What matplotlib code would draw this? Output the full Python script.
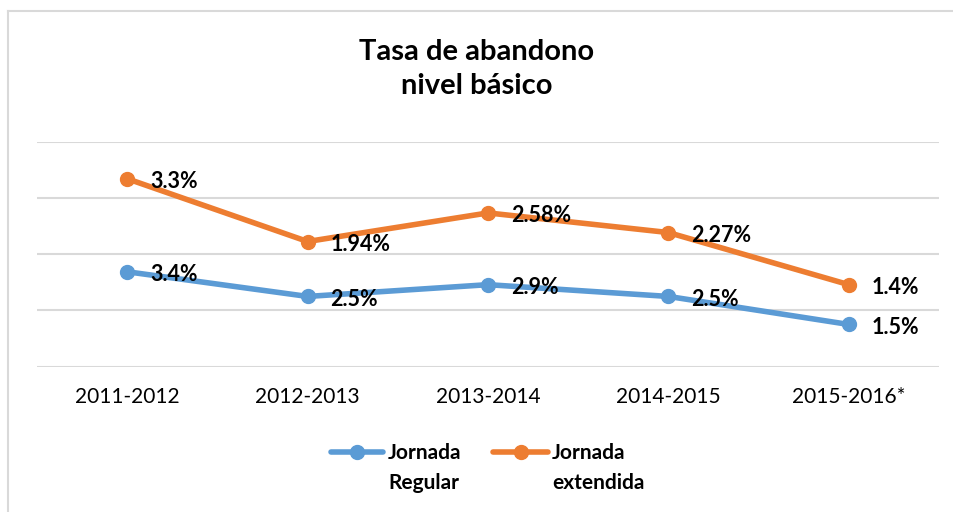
import matplotlib.pyplot as plt
from matplotlib.lines import Line2D

plt.rcParams['font.family'] = ['Lato', 'DejaVu Sans']

# Periods and series (line heights as drawn, plus the label text shown)
periodos = ["2011-2012", "2012-2013", "2013-2014", "2014-2015", "2015-2016*"]
regular_y = [1.69, 1.25, 1.46, 1.25, 0.75]
extendida_y = [3.35, 2.23, 2.74, 2.39, 1.46]
regular_txt = ["3.4%", "2.5%", "2.9%", "2.5%", "1.5%"]
extendida_txt = ["3.3%", "1.94%", "2.58%", "2.27%", "1.4%"]
series_nombres = ["Jornada\nRegular", "Jornada\nextendida"]

azul = "#5b9bd5"
naranja = "#ed7d31"

fig = plt.figure(figsize=(9.54, 5.12), dpi=100)
ax = fig.add_axes([37 / 954, 1 - 366.5 / 512, (939 - 37) / 954, (366.5 - 142.3) / 512])

x = list(range(len(periodos)))
ax.plot(x, regular_y, color=azul, lw=4, marker='o', ms=10, solid_capstyle='round')
ax.plot(x, extendida_y, color=naranja, lw=4, marker='o', ms=10, solid_capstyle='round')

for xi, yi, t in zip(x, regular_y, regular_txt):
    ax.annotate(t, (xi, yi), xytext=(23, -3), textcoords='offset pixels',
                ha='left', va='center', fontsize=15.5, fontweight='bold')
for xi, yi, t in zip(x, extendida_y, extendida_txt):
    ax.annotate(t, (xi, yi), xytext=(23, -3), textcoords='offset pixels',
                ha='left', va='center', fontsize=15.5, fontweight='bold')

ax.set_xlim(-0.5, len(periodos) - 0.5)
ax.set_ylim(0, 4)
ax.set_yticks([0, 1, 2, 3, 4])
ax.set_yticklabels([])
ax.set_xticks(x)
ax.set_xticklabels(periodos, fontsize=15)
ax.tick_params(axis='both', length=0)
ax.tick_params(axis='x', pad=15)
ax.grid(axis='y', color='#d9d9d9', lw=1.5)
ax.set_axisbelow(True)
for s in ax.spines.values():
    s.set_visible(False)

fig.text(0.5, 1 - 69 / 512, "Tasa de abandono\nnivel básico", ha='center', va='center',
         fontsize=21, fontweight='bold', linespacing=1.42)

# legend, handle aligned with the first line of each label
leg_x = [(331, 383, 388), (493, 548, 552)]
for (x0, x1, xt), col, nombre in zip(leg_x, [azul, naranja], series_nombres):
    yl = 1 - 452 / 512
    fig.add_artist(Line2D([x0 / 954, x1 / 954], [yl, yl], color=col, lw=4,
                          solid_capstyle='round'))
    fig.add_artist(Line2D([(x0 + x1) / 2 / 954], [yl], color=col, marker='o', ms=10))
    fig.text(xt / 954, 1 - 443 / 512, nombre, ha='left', va='top', fontsize=15,
             fontweight='bold', linespacing=1.6)

# light chart frame (left and top edges visible)
fig.add_artist(Line2D([8 / 954, 8 / 954], [0, 1 - 11 / 512], color='#d9d9d9', lw=1.5))
fig.add_artist(Line2D([8 / 954, 1], [1 - 11 / 512, 1 - 11 / 512], color='#d9d9d9', lw=1.5))

fig.savefig("out.png", dpi=100)
